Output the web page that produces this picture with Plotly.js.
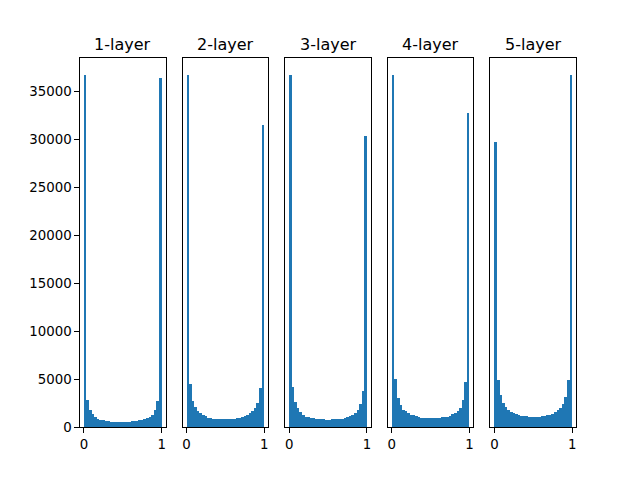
<!DOCTYPE html>
<html>
<head>
<meta charset="utf-8">
<script src="https://cdn.plot.ly/plotly-3.0.1.min.js"></script>
<style>html,body{margin:0;padding:0;background:#fff;}#chart{width:640px;height:480px;}</style>
</head>
<body>
<div id="chart"></div>
<script>
const titles = ["1-layer", "2-layer", "3-layer", "4-layer", "5-layer"];
const binLo = 0, binHi = 1, binCount = 30;

const layer1 = [36670, 2800, 1770, 1420, 1075, 900, 800, 730, 690, 625, 560, 530, 520, 520, 520, 520, 590, 540, 600, 610, 640, 700, 760, 830, 950, 1100, 1300, 1770, 2700, 36350];
const layer2 = [36670, 4450, 2700, 2080, 1670, 1460, 1250, 1150, 1000, 970, 900, 870, 830, 830, 830, 830, 900, 830, 900, 940, 1000, 1040, 1150, 1250, 1490, 1670, 2010, 2500, 4060, 31460];
const layer3 = [36670, 4150, 2600, 1950, 1600, 1300, 1100, 1050, 1000, 1000, 850, 850, 830, 830, 800, 780, 830, 830, 830, 850, 870, 950, 1050, 1150, 1300, 1450, 1750, 2400, 3750, 30300];
const layer4 = [36670, 5000, 3020, 2290, 1840, 1700, 1490, 1280, 1250, 1150, 1040, 970, 970, 940, 940, 940, 940, 940, 940, 1040, 1040, 1040, 1180, 1350, 1490, 1670, 2010, 2810, 4680, 32700];
const layer5 = [29690, 4900, 3330, 2500, 2080, 1770, 1600, 1490, 1350, 1250, 1180, 1150, 1150, 1050, 1050, 1050, 1100, 1050, 1150, 1180, 1250, 1300, 1400, 1550, 1750, 2050, 2450, 3150, 4900, 36670];
const series = [layer1, layer2, layer3, layer4, layer5];

(function () {
  const binWidth = (binHi - binLo) / binCount;
  const centers = [];
  for (let i = 0; i < binCount; i++) centers.push(binLo + (i + 0.5) * binWidth);

  const W = 640, H = 480;
  const fl = 0.125, fr = 0.9, fb = 0.11, ft = 0.88, wspace = 0.2;
  const n = series.length;
  const pw = (fr - fl) / (n + (n - 1) * wspace);
  const ymax = 36670 * 1.05;

  const font = {family: "DejaVu Sans, sans-serif", size: 13.33, color: "#000"};
  const traces = [];
  const layout = {
    width: W, height: H,
    margin: {l: 0, r: 0, t: 0, b: 0},
    paper_bgcolor: "#fff", plot_bgcolor: "#fff",
    showlegend: false, bargap: 0, barmode: "overlay",
    font: font,
    annotations: []
  };

  series.forEach((vals, k) => {
    const idx = k === 0 ? "" : String(k + 1);
    traces.push({
      type: "bar", x: centers, y: vals, width: binWidth,
      marker: {color: "#1f77b4", line: {width: 0}},
      xaxis: "x" + idx, yaxis: "y" + idx, hoverinfo: "none"
    });
    const x0 = fl + k * pw * (1 + wspace);
    const x1 = x0 + pw;
    layout["xaxis" + idx] = {
      domain: [x0, x1], anchor: "y" + idx,
      range: [binLo - 0.05 * (binHi - binLo), binHi + 0.05 * (binHi - binLo)],
      tickvals: [0, 1], ticktext: ["0", "1"],
      ticks: "outside", ticklen: 4.7, tickwidth: 1, tickcolor: "#000",
      showline: true, mirror: true, linecolor: "#000", linewidth: 1,
      showgrid: false, zeroline: false, tickfont: font
    };
    layout["yaxis" + idx] = {
      domain: [fb, ft], anchor: "x" + idx,
      range: [0, ymax],
      tickvals: [0, 5000, 10000, 15000, 20000, 25000, 30000, 35000],
      ticktext: ["0", "5000", "10000", "15000", "20000", "25000", "30000", "35000"],
      ticks: k === 0 ? "outside" : "", ticklen: 4.7, tickwidth: 1, tickcolor: "#000",
      showticklabels: k === 0,
      showline: true, mirror: true, linecolor: "#000", linewidth: 1,
      showgrid: false, zeroline: false, tickfont: font
    };
    layout.annotations.push({
      text: titles[k], xref: "paper", yref: "paper",
      x: (x0 + x1) / 2, y: 1 - 44 / H, xanchor: "center", yanchor: "middle",
      showarrow: false, font: {family: "DejaVu Sans, sans-serif", size: 16, color: "#000"}
    });
  });

  Plotly.newPlot("chart", traces, layout, {staticPlot: true, displayModeBar: false});
})();
</script>
</body>
</html>
